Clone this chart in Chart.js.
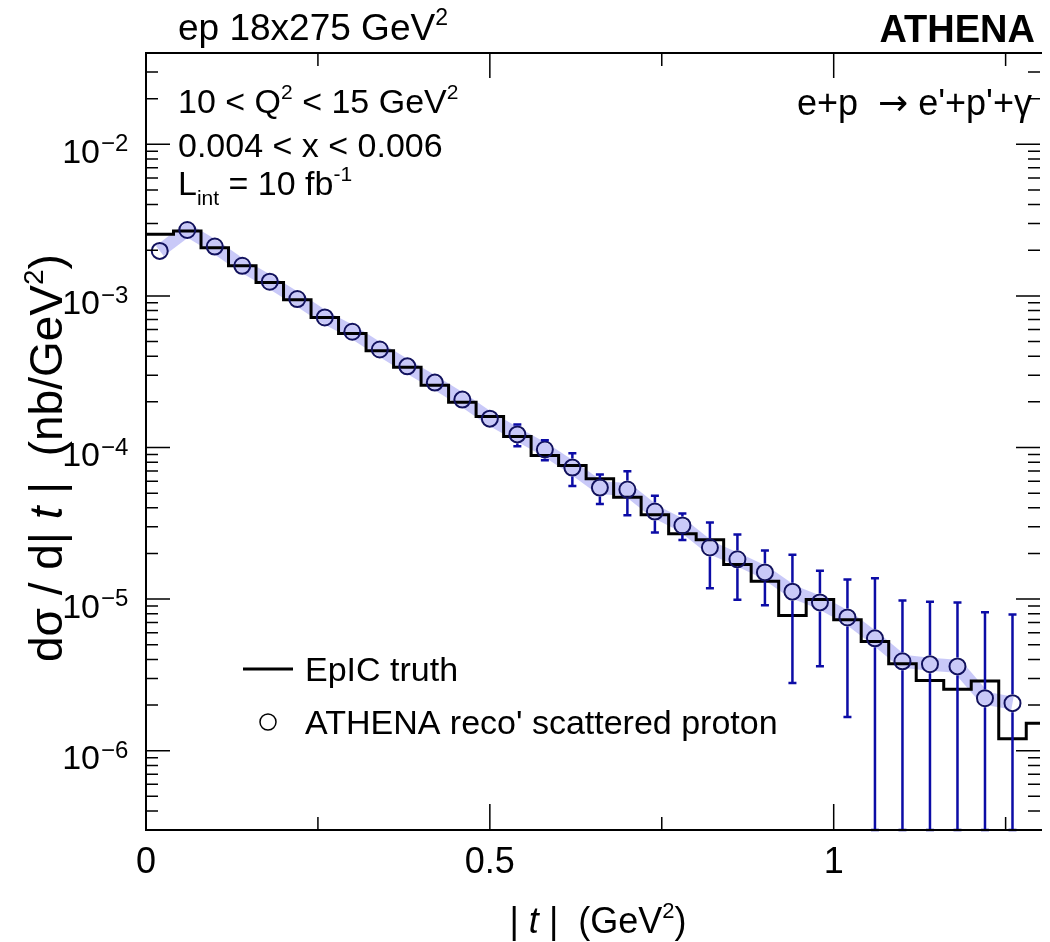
<!DOCTYPE html>
<html>
<head>
<meta charset="utf-8">
<script src="https://cdn.jsdelivr.net/npm/chart.js@4.4.0/dist/chart.umd.min.js"></script>
<style>
html, body { margin: 0; padding: 0; background: #fff; }
</style>
</head>
<body>
<canvas id="chart" width="1050" height="942"></canvas>
<script>
// |t| bin centres of the reconstructed points (GeV^2)
const binCenters = [0.02, 0.06, 0.10, 0.14, 0.18, 0.22, 0.26, 0.30, 0.34, 0.38, 0.42, 0.46,
    0.50, 0.54, 0.58, 0.62, 0.66, 0.70, 0.74, 0.78, 0.82, 0.86, 0.90, 0.94,
    0.98, 1.02, 1.06, 1.10, 1.14, 1.18, 1.22, 1.26];

// ATHENA reco' scattered proton (nb/GeV^2)
const recoValues = [1.98e-3, 2.72e-3, 2.115e-3, 1.58e-3, 1.24e-3, 9.53e-4, 7.21e-4, 5.80e-4,
    4.43e-4, 3.43e-4, 2.68e-4, 2.07e-4, 1.55e-4, 1.22e-4, 9.7e-5, 7.37e-5,
    5.44e-5, 5.28e-5, 3.78e-5, 3.06e-5, 2.19e-5, 1.83e-5, 1.50e-5, 1.12e-5,
    9.51e-6, 7.57e-6, 5.51e-6, 3.89e-6, 3.72e-6, 3.60e-6, 2.22e-6, 2.06e-6];

const recoErrors = [6e-5, 7e-5, 6e-5, 5e-5, 4.4e-5, 3.9e-5, 3.4e-5, 3.0e-5,
    2.7e-5, 2.5e-5, 2.3e-5, 2.1e-5, 1.9e-5, 2.0e-5, 1.45e-5, 1.8e-5,
    1.2e-5, 1.7e-5, 1.03e-5, 6.1e-6, 1.01e-5, 8.4e-6, 5.9e-6, 8.4e-6,
    5.9e-6, 5.9e-6, 8.2e-6, 5.9e-6, 5.9e-6, 5.9e-6, 5.96e-6, 5.87e-6];

// EpIC truth histogram: left bin edges (+ closing edge) and contents
const truthEdges = [0.00, 0.04, 0.08, 0.12, 0.16, 0.20, 0.24, 0.28, 0.32, 0.36, 0.40, 0.44,
    0.48, 0.52, 0.56, 0.60, 0.64, 0.68, 0.72, 0.76, 0.80, 0.84, 0.88, 0.92,
    0.96, 1.00, 1.04, 1.08, 1.12, 1.16, 1.20, 1.24, 1.28, 1.32];
const truthValues = [2.55e-3, 2.68e-3, 2.08e-3, 1.58e-3, 1.226e-3, 9.42e-4, 7.21e-4, 5.65e-4,
    4.35e-4, 3.38e-4, 2.57e-4, 1.99e-4, 1.60e-4, 1.18e-4, 8.84e-5, 7.60e-5,
    6.21e-5, 4.70e-5, 3.60e-5, 2.70e-5, 2.46e-5, 1.69e-5, 1.31e-5, 7.81e-6,
    9.95e-6, 7.31e-6, 5.26e-6, 3.75e-6, 2.91e-6, 2.54e-6, 2.88e-6, 1.20e-6,
    1.52e-6, 1.52e-6];

// axis ticks
const xMajorTicks = [0, 0.5, 1];
const xMajorLabels = ['0', '0.5', '1'];
const xMinorTicks = [0.25, 0.75, 1.25];
const yDecades = [-6, -5, -4, -3, -2];

const FONT = '"Liberation Sans", Arial, Helvetica, sans-serif';
const f = (size, style) => `${style || ''} ${size}px ${FONT}`;

const markerColor = '#12125e';
const errColor = '#0c0ca6';
const markerR = 9;

function drawRich(ctx, parts, x, y, align) {
    let w = 0;
    parts.forEach(p => { ctx.font = p.font; w += ctx.measureText(p.t).width; });
    let cx = align === 'right' ? x - w : align === 'center' ? x - w / 2 : x;
    ctx.textAlign = 'left';
    ctx.textBaseline = 'alphabetic';
    parts.forEach(p => {
        ctx.font = p.font;
        ctx.fillText(p.t, cx, y + (p.dy || 0));
        cx += ctx.measureText(p.t).width;
    });
    return w;
}

const rootStyle = {
    id: 'rootStyle',
    afterDatasetsDraw(chart) {
        // error bars, leaving a gap where the open marker sits
        const ctx = chart.ctx;
        const xs = chart.scales.x, ys = chart.scales.y, area = chart.chartArea;
        ctx.save();
        ctx.strokeStyle = errColor;
        ctx.lineWidth = 2.5;
        binCenters.forEach((t, i) => {
            const px = xs.getPixelForValue(t);
            const py = ys.getPixelForValue(recoValues[i]);
            const hi = recoValues[i] + recoErrors[i];
            const lo = recoValues[i] - recoErrors[i];
            const pyHi = Math.max(ys.getPixelForValue(hi), area.top);
            const pyLo = lo > 0 ? Math.min(ys.getPixelForValue(lo), area.bottom) : area.bottom;
            ctx.beginPath();
            if (py - pyHi > markerR) {
                ctx.moveTo(px, py - markerR); ctx.lineTo(px, pyHi);
                ctx.moveTo(px - 4, pyHi); ctx.lineTo(px + 4, pyHi);
            }
            if (pyLo - py > markerR) {
                ctx.moveTo(px, py + markerR); ctx.lineTo(px, pyLo);
                ctx.moveTo(px - 4, pyLo); ctx.lineTo(px + 4, pyLo);
            }
            ctx.stroke();
        });
        ctx.restore();
    },
    afterDraw(chart) {
        const ctx = chart.ctx;
        const xs = chart.scales.x, ys = chart.scales.y, a = chart.chartArea;
        ctx.save();
        ctx.fillStyle = '#000';
        ctx.strokeStyle = '#000';

        // frame
        ctx.lineWidth = 2;
        ctx.beginPath();
        ctx.moveTo(a.right + 2, a.top);
        ctx.lineTo(a.left, a.top);
        ctx.lineTo(a.left, a.bottom);
        ctx.lineTo(a.right + 2, a.bottom);
        ctx.stroke();

        // ticks
        ctx.lineWidth = 1.5;
        ctx.beginPath();
        xMajorTicks.forEach(v => {
            const px = xs.getPixelForValue(v);
            ctx.moveTo(px, a.bottom); ctx.lineTo(px, a.bottom - 26);
            ctx.moveTo(px, a.top); ctx.lineTo(px, a.top + 25);
        });
        xMinorTicks.forEach(v => {
            const px = xs.getPixelForValue(v);
            ctx.moveTo(px, a.bottom); ctx.lineTo(px, a.bottom - 13);
            ctx.moveTo(px, a.top); ctx.lineTo(px, a.top + 13);
        });
        for (let d = -7; d <= -2; d++) {
            for (let k = 1; k <= 9; k++) {
                const v = k * Math.pow(10, d);
                if (v < ys.min || v > ys.max) continue;
                const py = ys.getPixelForValue(v);
                const len = k === 1 ? 24 : 12;
                ctx.moveTo(a.left, py); ctx.lineTo(a.left + len, py);
                ctx.moveTo(a.right, py); ctx.lineTo(a.right - len, py);
            }
        }
        ctx.stroke();

        // y tick labels
        yDecades.forEach(d => {
            const py = ys.getPixelForValue(Math.pow(10, d));
            ctx.font = f(34);
            ctx.textAlign = 'right';
            ctx.textBaseline = 'alphabetic';
            ctx.fillText('10', 100, py + 18.5);
            ctx.font = f(24);
            ctx.textAlign = 'left';
            ctx.fillText('\u2212' + (-d), 101, py + 7);
        });

        // x tick labels
        ctx.font = f(36);
        ctx.textAlign = 'center';
        xMajorTicks.forEach((v, i) => {
            ctx.fillText(xMajorLabels[i], xs.getPixelForValue(v), 873);
        });

        // x title
        drawRich(ctx, [
            { t: '|', font: f(36) },
            { t: ' t', font: f(36, 'italic') },
            { t: ' |  (GeV', font: f(36) },
            { t: '2', font: f(22), dy: -15 },
            { t: ')', font: f(36) }
        ], 598, 933, 'center');

        // y title, starting next to the 1e-5 label and running upwards
        ctx.save();
        ctx.translate(62, 662);
        ctx.rotate(-Math.PI / 2);
        drawRich(ctx, [
            { t: 'd\u03c3 / d|', font: f(46) },
            { t: ' t', font: f(46, 'italic') },
            { t: ' |  (nb/GeV', font: f(46) },
            { t: '2', font: f(28), dy: -19 },
            { t: ')', font: f(46) }
        ], 0, 0, 'left');
        ctx.restore();

        // header
        drawRich(ctx, [
            { t: 'ep 18x275 GeV', font: f(37) },
            { t: '2', font: f(23), dy: -15 }
        ], 178, 40, 'left');
        drawRich(ctx, [{ t: 'ATHENA', font: f(38, 'bold') }], 1035, 42, 'right');

        // kinematic labels
        drawRich(ctx, [
            { t: '10 < Q', font: f(34) },
            { t: '2', font: f(21), dy: -14 },
            { t: ' < 15 GeV', font: f(34) },
            { t: '2', font: f(21), dy: -14 }
        ], 178, 113, 'left');
        drawRich(ctx, [{ t: '0.004 < x < 0.006', font: f(34) }], 178, 157, 'left');
        drawRich(ctx, [
            { t: 'L', font: f(34) },
            { t: 'int', font: f(21), dy: 10 },
            { t: ' = 10 fb', font: f(34) },
            { t: '-1', font: f(21), dy: -14 }
        ], 178, 195, 'left');
        drawRich(ctx, [
            { t: 'e+p  ', font: f(36) },
            { t: '\u2192', font: '36px "DejaVu Sans", sans-serif' },
            { t: ' e\'+p\'+\u03b3', font: f(36) }
        ], 1032, 115, 'right');

        // legend
        ctx.lineWidth = 3;
        ctx.beginPath();
        ctx.moveTo(243, 669); ctx.lineTo(293, 669);
        ctx.stroke();
        ctx.lineWidth = 1.5;
        ctx.beginPath();
        ctx.arc(268, 722, 8, 0, Math.PI * 2);
        ctx.stroke();
        drawRich(ctx, [{ t: 'EpIC truth', font: f(34) }], 305, 681, 'left');
        drawRich(ctx, [{ t: 'ATHENA reco\' scattered proton', font: f(34) }], 305, 734, 'left');

        ctx.restore();
    }
};

const bandData = binCenters.map((t, i) => ({ x: t, y: recoValues[i] }));
const truthData = truthEdges.map((t, i) => ({ x: t, y: truthValues[i] }));

new Chart(document.getElementById('chart').getContext('2d'), {
    type: 'line',
    data: {
        datasets: [
            {
                label: 'band',
                data: bandData,
                borderColor: 'rgba(198, 198, 248, 0.95)',
                borderWidth: 13,
                pointRadius: 0,
                tension: 0,
                order: 3
            },
            {
                label: 'EpIC truth',
                data: truthData,
                borderColor: '#000',
                borderWidth: 3,
                stepped: true,
                pointRadius: 0,
                order: 2
            },
            {
                label: "ATHENA reco' scattered proton",
                data: bandData,
                showLine: false,
                pointRadius: markerR - 1,
                pointBorderWidth: 2,
                pointBorderColor: markerColor,
                pointBackgroundColor: 'rgba(0,0,0,0)',
                order: 1
            }
        ]
    },
    options: {
        responsive: false,
        animation: false,
        layout: { padding: { left: 146, right: 0, top: 53, bottom: 112 } },
        plugins: {
            legend: { display: false },
            tooltip: { enabled: false }
        },
        scales: {
            x: { type: 'linear', min: 0, max: 1.3, display: false },
            y: { type: 'logarithmic', min: 3e-7, max: 0.04, display: false }
        }
    },
    plugins: [rootStyle]
});
</script>
</body>
</html>
